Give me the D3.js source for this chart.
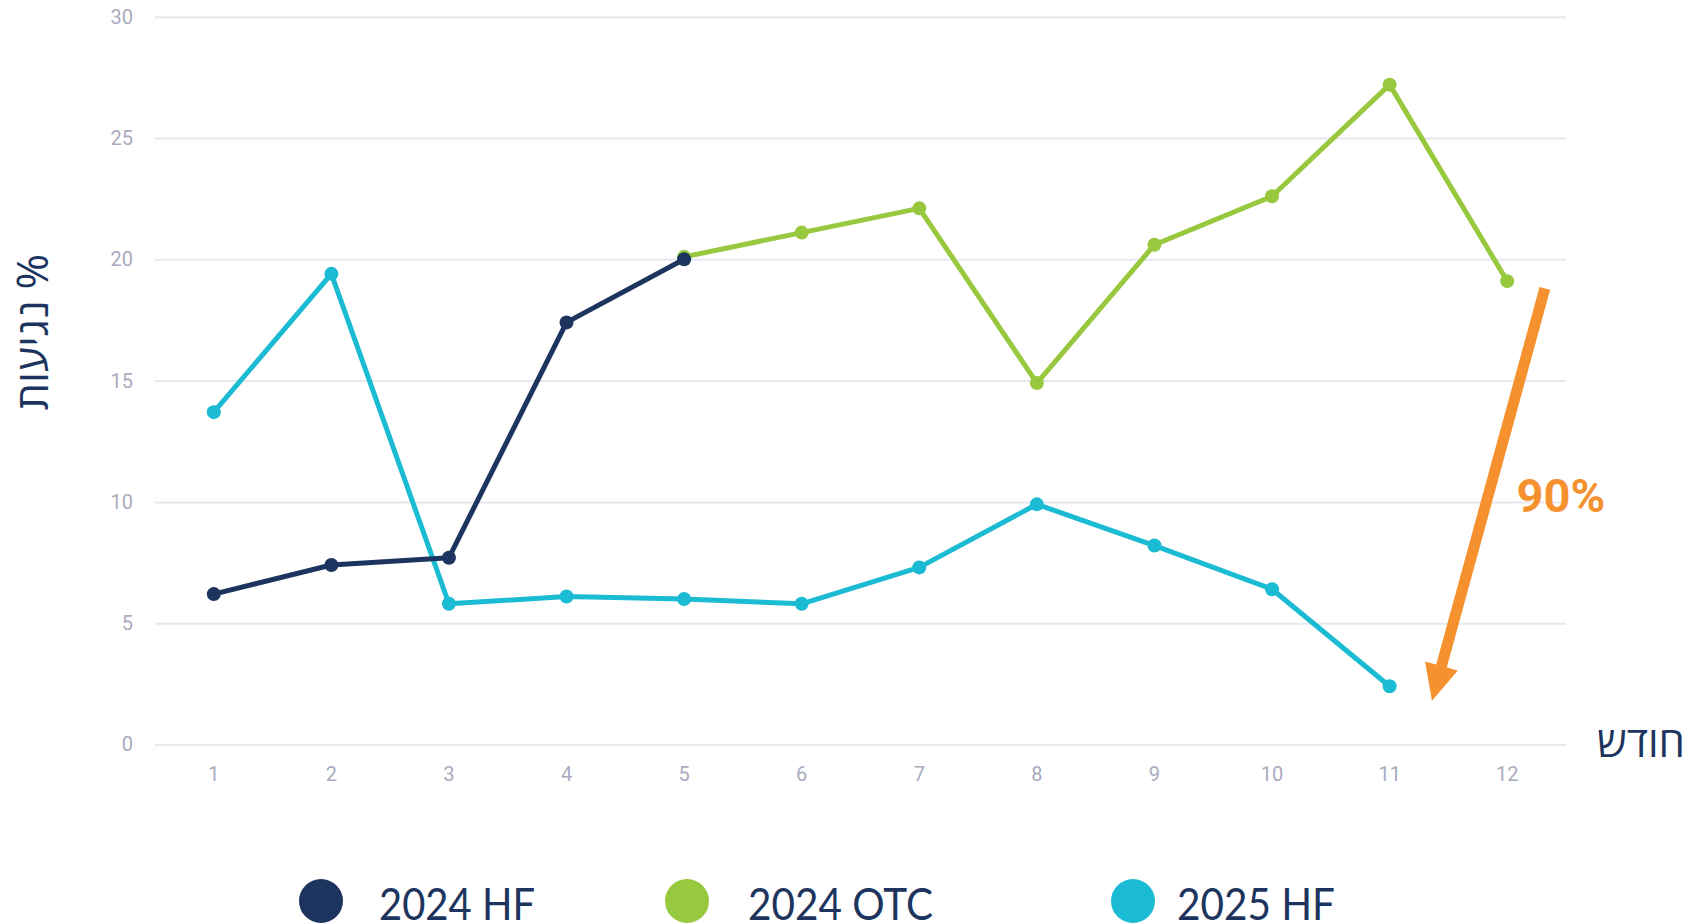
<!DOCTYPE html>
<html>
<head>
<meta charset="utf-8">
<script src="https://cdn.jsdelivr.net/npm/d3@7"></script>
<style>
  html, body { margin: 0; padding: 0; background: #ffffff; }
  svg { display: block; }
</style>
</head>
<body>
<svg id="chart" width="1692" height="923"></svg>
<script>
// ---- data ----
const months = [1, 2, 3, 4, 5, 6, 7, 8, 9, 10, 11, 12];
const yTicks = [0, 5, 10, 15, 20, 25, 30];
const hf2024 = [6.2, 7.4, 7.7, 17.4, 20.0, null, null, null, null, null, null, null];
const otc2024 = [null, null, null, null, 20.1, 21.1, 22.1, 14.9, 20.6, 22.6, 27.2, 19.1];
const hf2025 = [13.7, 19.4, 5.8, 6.1, 6.0, 5.8, 7.3, 9.9, 8.2, 6.4, 2.4, null];
const seriesNames = ["2024 HF", "2024 OTC", "2025 HF"];
const xAxisTitle = "חודש";
const yAxisTitle = "נגיעות %";
const annotationLabel = "90%";
// arrow annotation in data units [month, value]
const arrowStart = [12.32, 18.8];
const arrowTip = [11.36, 1.8];
const labelAnchor = [12.08, 9.6];

// ---- layout ----
const svg = d3.select("#chart");
const mLeft = 155, mRight = 1566, mTop = 16.7, mBottom = 744.5;
const navy = "#1d355e", green = "#97c83e", cyan = "#1bbbd3", orange = "#f5922f";
const gridColor = "#e7e7ef", tickColor = "#a9abc0";

const x = d3.scaleBand().domain(months).range([mLeft, mRight]).padding(0);
const xl = d3.scaleLinear().domain([0.5, 12.5]).range([mLeft, mRight]);
const y = d3.scaleLinear().domain([0, 30]).range([mBottom, mTop]);

// grid
const yAxis = d3.axisLeft(y).tickValues(yTicks).tickSize(-(mRight - mLeft)).tickPadding(22);
const gy = svg.append("g").attr("transform", `translate(${mLeft},0)`).call(yAxis);
gy.select(".domain").remove();
gy.selectAll(".tick line").attr("stroke", gridColor).attr("stroke-width", 2);
gy.selectAll(".tick text").attr("fill", tickColor)
  .style("font-family", "Roboto, 'Liberation Sans', sans-serif").style("font-size", "20px");

const xAxis = d3.axisBottom(x).tickSize(0).tickPadding(22);
const gx = svg.append("g").attr("transform", `translate(0,${mBottom})`).call(xAxis);
gx.select(".domain").remove();
gx.selectAll(".tick text").attr("fill", tickColor)
  .style("font-family", "Roboto, 'Liberation Sans', sans-serif").style("font-size", "20px");

// series
const series = [
  { name: seriesNames[1], vals: otc2024, color: green },
  { name: seriesNames[2], vals: hf2025, color: cyan },
  { name: seriesNames[0], vals: hf2024, color: navy }
];
const line = d3.line()
  .defined(d => d.v !== null)
  .x(d => x(d.m) + x.bandwidth() / 2)
  .y(d => y(d.v));

series.forEach(s => {
  const pts = months.map((m, i) => ({ m, v: s.vals[i] }));
  const g = svg.append("g");
  g.append("path").datum(pts).attr("d", line)
    .attr("fill", "none").attr("stroke", s.color).attr("stroke-width", 5)
    .attr("stroke-linejoin", "round").attr("stroke-linecap", "round");
  g.selectAll("circle").data(pts.filter(d => d.v !== null)).join("circle")
    .attr("cx", d => x(d.m) + x.bandwidth() / 2)
    .attr("cy", d => y(d.v))
    .attr("r", 7)
    .attr("fill", s.color);
});

// arrow annotation
const sx = xl(arrowStart[0]), sy = y(arrowStart[1]);
const tx = xl(arrowTip[0]), ty = y(arrowTip[1]);
const dx = tx - sx, dy = ty - sy, len = Math.hypot(dx, dy);
const ux = dx / len, uy = dy / len, px = -uy, py = ux;
const headLen = 36, headHalf = 17;
const bx = tx - ux * headLen, by = ty - uy * headLen;
svg.append("line")
  .attr("x1", sx).attr("y1", sy).attr("x2", bx + ux * 2).attr("y2", by + uy * 2)
  .attr("stroke", orange).attr("stroke-width", 11);
svg.append("polygon")
  .attr("points", [[tx, ty], [bx + px * headHalf, by + py * headHalf], [bx - px * headHalf, by - py * headHalf]].map(p => p.join(",")).join(" "))
  .attr("fill", orange);
svg.append("text")
  .attr("x", xl(labelAnchor[0])).attr("y", y(labelAnchor[1]))
  .attr("fill", orange)
  .style("font-family", "Roboto, 'Liberation Sans', sans-serif")
  .style("font-weight", "700").style("font-size", "47px")
  .text(annotationLabel);

// axis titles
svg.append("text")
  .attr("transform", `translate(48,${y(17)}) rotate(-90)`)
  .attr("text-anchor", "middle")
  .attr("fill", navy)
  .style("font-family", "'Open Sans', 'Liberation Sans', 'DejaVu Sans', sans-serif")
  .style("font-size", "43px")
  .text(yAxisTitle);

svg.append("text")
  .attr("x", 1685).attr("y", 757)
  .attr("text-anchor", "end")
  .attr("fill", navy)
  .style("font-family", "'Open Sans', 'Liberation Sans', 'DejaVu Sans', sans-serif")
  .style("font-size", "42px")
  .text(xAxisTitle);

// legend
const legendColors = [navy, green, cyan];
const legendCx = [321, 687, 1133];
const legendTx = [379, 748, 1177];
const legendW = [156, 185, 158];
const lg = svg.append("g");
seriesNames.forEach((n, i) => {
  lg.append("circle").attr("cx", legendCx[i]).attr("cy", 901).attr("r", 22).attr("fill", legendColors[i]);
  lg.append("text").attr("x", legendTx[i]).attr("y", 920)
    .attr("fill", navy)
    .attr("textLength", legendW[i]).attr("lengthAdjust", "spacingAndGlyphs")
    .style("font-family", "Lato, 'Open Sans', sans-serif")
    .style("font-weight", "400")
    .style("font-size", "45px")
    .text(n);
});
</script>
</body>
</html>
